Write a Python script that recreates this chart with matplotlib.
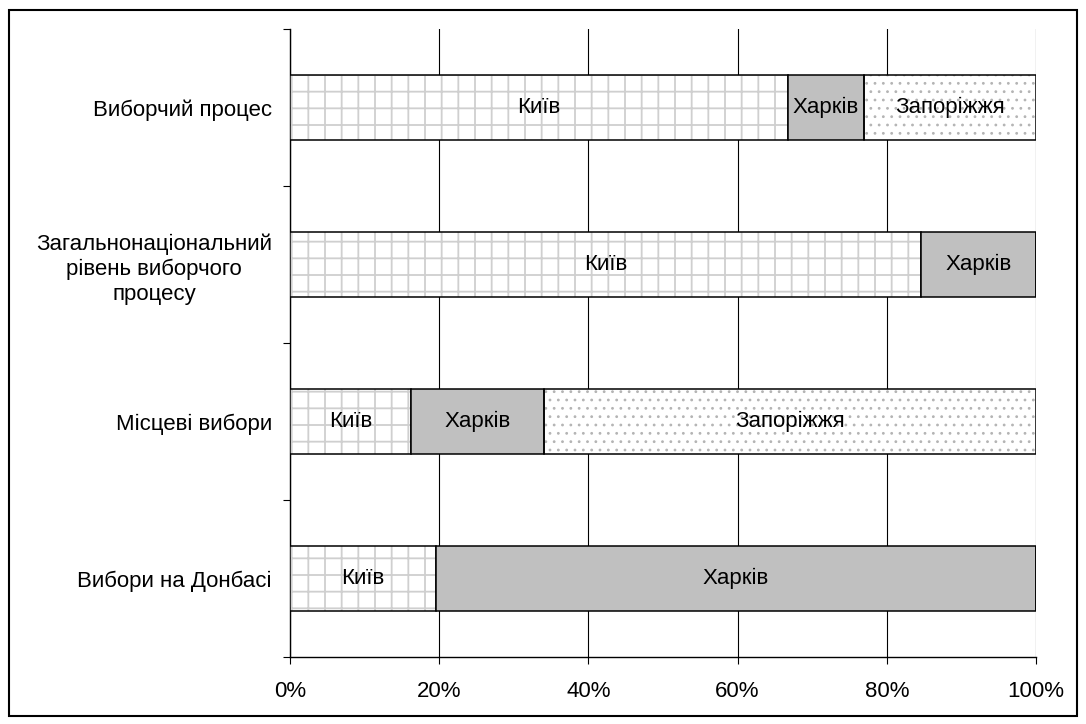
import matplotlib.pyplot as plt
import matplotlib.patches as patches
import numpy as np

plt.rcParams["font.family"] = ["Liberation Sans", "DejaVu Sans"]

# Data (share of each city, %)
categories = [
    "Виборчий процес",
    "Загальнонаціональний\nрівень виборчого\nпроцесу",
    "Місцеві вибори",
    "Вибори на Донбасі",
]
cities = ["Київ", "Харків", "Запоріжжя"]
kyiv = [66.8, 84.6, 16.2, 19.6]
kharkiv = [10.1, 15.4, 17.8, 80.4]
zaporizhzhia = [23.1, 0.0, 66.0, 0.0]

series = [kyiv, kharkiv, zaporizhzhia]
styles = [
    dict(face="white", hatch="+", hcolor="#cfcfcf", hlw=1.3),
    dict(face="#c0c0c0", hatch=None, hcolor=None, hlw=1.0),
    dict(face="white", hatch="..", hcolor="#b4b4b4", hlw=0.8),
]

fig = plt.figure(figsize=(10.86, 7.24), dpi=100)
fig.patches.append(patches.Rectangle(
    (0.008, 0.011), 0.984, 0.975, transform=fig.transFigure,
    fill=False, edgecolor="black", linewidth=1.5))

ax = fig.add_axes([0.267, 0.0925, 0.687, 0.8675])

n = len(categories)
ypos = np.arange(n)[::-1] + 0.5
height = 0.41

left = np.zeros(n)
for vals, st, name in zip(series, styles, cities):
    vals = np.array(vals)
    if st["hatch"]:
        with plt.rc_context({"hatch.linewidth": st["hlw"]}):
            ax.barh(ypos, vals, height, left=left, color=st["face"],
                    hatch=st["hatch"], edgecolor=st["hcolor"], linewidth=0,
                    zorder=3)
        ax.barh(ypos, vals, height, left=left, fill=False,
                edgecolor="black", linewidth=1.1, zorder=4)
    else:
        ax.barh(ypos, vals, height, left=left, color=st["face"],
                edgecolor="black", linewidth=1.1, zorder=4)
    for y, l, v in zip(ypos, left, vals):
        if v > 0:
            ax.text(l + v / 2, y, name, ha="center", va="center",
                    fontsize=16, zorder=5)
    left = left + vals

ax.set_xlim(0, 100)
ax.set_ylim(0, n)
ax.set_xticks(np.arange(0, 101, 20))
ax.set_xticklabels([f"{v}%" for v in range(0, 101, 20)], fontsize=16)
ax.set_yticks(np.arange(0, n + 1))
ax.set_yticklabels([])
ax.set_yticks(ypos, minor=True)
ax.set_yticklabels(categories, minor=True, fontsize=16,
                   multialignment="center", linespacing=1.25)
ax.tick_params(axis="y", which="major", direction="out", length=5,
               width=0.8)
ax.tick_params(axis="y", which="minor", length=0, pad=13)
ax.tick_params(axis="x", direction="out", length=5, width=0.8, pad=12)

ax.grid(axis="x", color="black", linewidth=0.8, zorder=1)
ax.set_axisbelow(True)
for s in ["top", "right"]:
    ax.spines[s].set_visible(False)
for s in ["left", "bottom"]:
    ax.spines[s].set_linewidth(1.0)

fig.savefig("out.png", dpi=100)
